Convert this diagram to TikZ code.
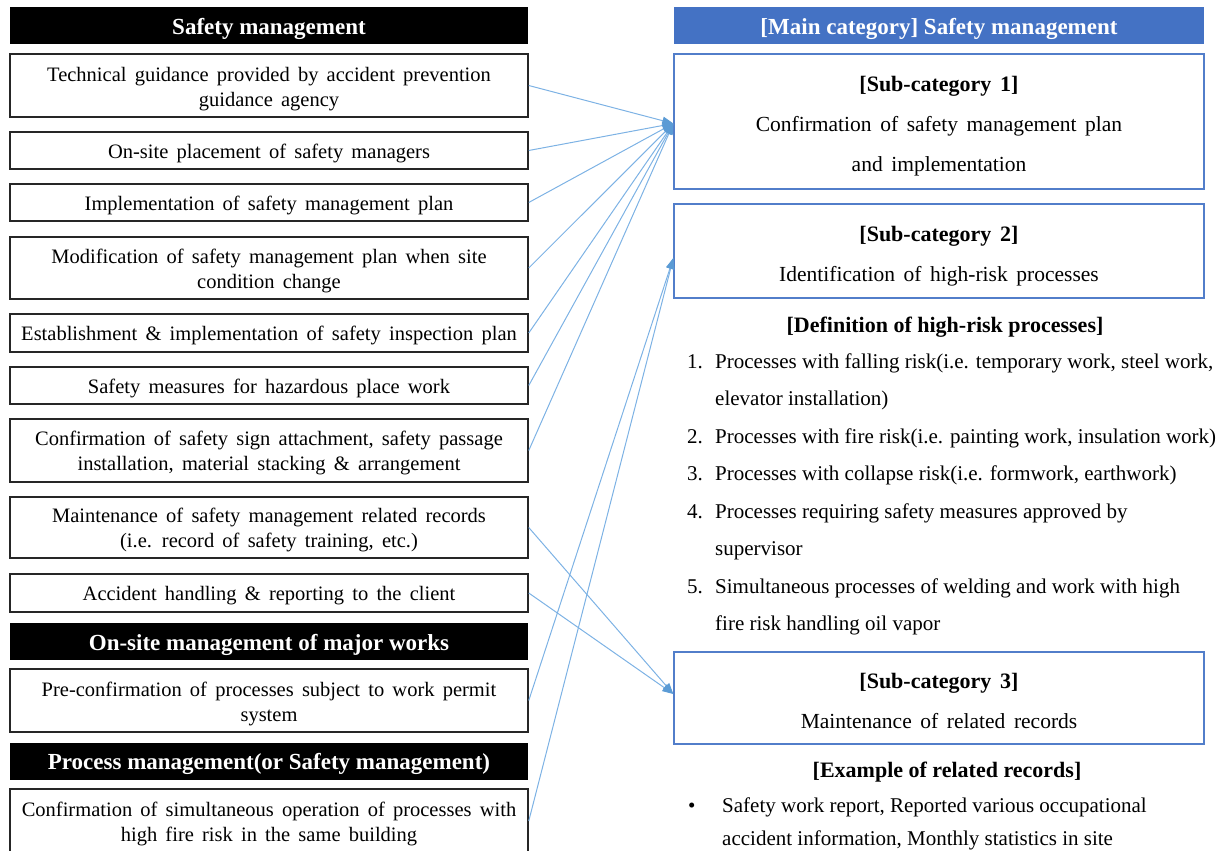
\documentclass[tikz,border=0pt]{standalone}
\usepackage{fontspec}
\setmainfont{Liberation Serif}
\newfontfamily\boxfont{Liberation Serif}[WordSpace=1.4]
\newfontfamily\rboxfont{Liberation Serif}[WordSpace=1.6]
\usetikzlibrary{arrows.meta}
\definecolor{hdrblue}{RGB}{68,114,196}
\definecolor{subblue}{RGB}{82,126,202}
\definecolor{arrline}{RGB}{125,178,228}
\definecolor{arrhead}{RGB}{91,155,213}
\newcommand\mysink[1]{\rule{0pt}{#1}}
\begin{document}
\begin{tikzpicture}[x=1pt,y=-1pt,
  sink/.style={execute at begin node={\rule{0pt}{#1}}},
  lbox/.style={draw=black!85, line width=1.5pt, fill=white, minimum width=518pt, inner sep=0pt, align=center, font=\boxfont\fontsize{20.5}{25}\selectfont},
  hdr/.style={fill=black, text=white, minimum width=518pt, minimum height=37pt, inner sep=0pt, font=\fontsize{23}{27}\selectfont\bfseries, sink=23pt},
  mainhdr/.style={fill=hdrblue, text=white, minimum width=530pt, minimum height=37pt, inner sep=0pt, font=\fontsize{23}{27}\selectfont\bfseries, sink=24pt},
  rbox/.style={draw=subblue, line width=1.3pt, fill=white, minimum width=530pt, inner sep=0pt, align=center, font=\rboxfont\fontsize{21.5}{40}\selectfont},
  subhd/.style={inner sep=0pt, font=\fontsize{22}{26}\selectfont\bfseries, text height=17pt, text depth=2.4pt},
  txt/.style={inner sep=0pt, anchor=west, font=\fontsize{21}{25}\selectfont, text height=16.5pt, text depth=2.5pt},
  conn/.style={draw=arrline, line width=1pt, -{Triangle[length=11pt,width=8pt,color=arrhead]}}
]
\useasboundingbox (0,0) rectangle (1219,851);

% left column
\node[hdr] (h1) at (269,26) {Safety management};
\node[lbox, minimum height=63pt] (b1) at (269,85.5) {\mysink{21pt}Technical guidance provided by accident prevention\\guidance agency};
\node[lbox, minimum height=37pt] (b2) at (269,150.5) {\mysink{21pt}On-site placement of safety managers};
\node[lbox, minimum height=37pt] (b3) at (269,202.5) {\mysink{21pt}Implementation of safety management plan};
\node[lbox, minimum height=62pt] (b4) at (269,268) {\mysink{21pt}Modification of safety management plan when site\\condition change};
\node[lbox, minimum height=38pt] (b5) at (269,333) {\mysink{20pt}Establishment \& implementation of safety inspection plan};
\node[lbox, minimum height=37pt] (b6) at (269,385.5) {\mysink{20pt}Safety measures for hazardous place work};
\node[lbox, minimum height=63pt] (b7) at (269,450.5) {\mysink{20pt}Confirmation of safety sign attachment, safety passage\\installation, material stacking \& arrangement};
\node[lbox, minimum height=61pt] (b8) at (269,527.5) {\mysink{20pt}Maintenance of safety management related records\\(i.e. record of safety training, etc.)};
\node[lbox, minimum height=38pt] (b9) at (269,593) {\mysink{20pt}Accident handling \& reporting to the client};
\node[hdr] (h2) at (269,641.5) {On-site management of major works};
\node[lbox, minimum height=63pt] (b10) at (269,700.5) {\mysink{22pt}Pre-confirmation of processes subject to work permit\\system};
\node[hdr] (h3) at (269,761) {Process management(or Safety management)};
\node[lbox, minimum height=64pt] (b11) at (269,821) {\mysink{21pt}Confirmation of simultaneous operation of processes with\\high fire risk in the same building};

% right column
\node[mainhdr] (mh) at (939,25.5) {[Main category] Safety management};
\node[rbox, minimum height=135pt] (s1) at (939,121.5) {{\fontsize{22}{40}\selectfont\bfseries\mysink{25.5pt}[Sub-category 1]}\\Confirmation of safety management plan\\and implementation};
\node[rbox, minimum height=94pt] (s2) at (939,251) {{\fontsize{22}{40}\selectfont\bfseries\mysink{25.5pt}[Sub-category 2]}\\Identification of high-risk processes};

\node[subhd] (defh) at (945,325) {[Definition of high-risk processes]};
\node[txt] (n1) at (687,361) {1.};
\node[txt] (l1a) at (715,361) {Processes with falling risk(i.e. temporary work, steel work,};
\node[txt] (l1b) at (715,398) {elevator installation)};
\node[txt] (n2) at (687,436) {2.};
\node[txt] (l2a) at (715,436) {Processes with fire risk(i.e. painting work, insulation work)};
\node[txt] (n3) at (687,473) {3.};
\node[txt] (l3a) at (715,473) {Processes with collapse risk(i.e. formwork, earthwork)};
\node[txt] (n4) at (687,511) {4.};
\node[txt] (l4a) at (715,511) {Processes requiring safety measures approved by};
\node[txt] (l4b) at (715,548) {supervisor};
\node[txt] (n5) at (687,586) {5.};
\node[txt] (l5a) at (715,586) {Simultaneous processes of welding and work with high};
\node[txt] (l5b) at (715,623) {fire risk handling oil vapor};

\node[rbox, minimum height=92pt] (s3) at (939,698) {{\fontsize{22}{38}\selectfont\bfseries\mysink{21.5pt}[Sub-category 3]}\\Maintenance of related records};

\node[subhd] (exh) at (947,770) {[Example of related records]};
\node[txt] (bul) at (688,805) {•};
\node[txt] (e1a) at (722,805) {Safety work report, Reported various occupational};
\node[txt] (e1b) at (722,838) {accident information, Monthly statistics in site};

% connectors
\coordinate (t1) at ([yshift=-2pt]s1.west);
\coordinate (t2) at ([yshift=-7pt]s2.west);
\coordinate (t3) at ([yshift=4pt]s3.west);
\foreach \b in {b1,b2,b3,b4,b5,b6,b7} \draw[conn] (\b.east) -- (t1);
\draw[conn] (b8.east) -- (t3);
\draw[conn] (b9.east) -- (t3);
\draw[conn] (b10.east) -- (t2);
\draw[conn] (b11.east) -- (t2);
\end{tikzpicture}
\end{document}
